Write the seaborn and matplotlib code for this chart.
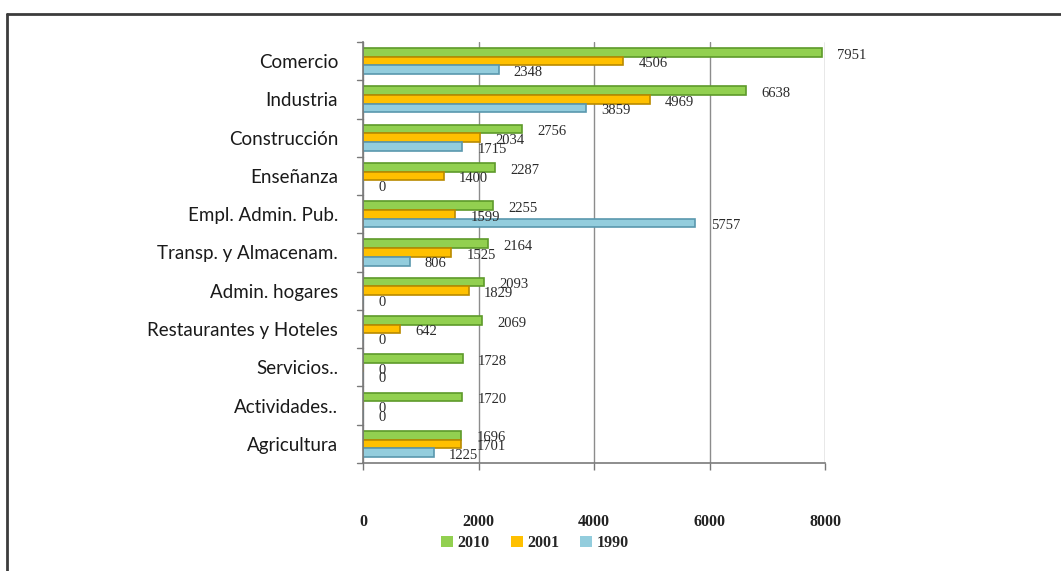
import matplotlib
matplotlib.use("Agg")
import matplotlib.pyplot as plt
from matplotlib.lines import Line2D
import seaborn as sns
import pandas as pd

# Employment by economic sector, three census years
sectors = ["Comercio", "Industria", "Construcción", "Enseñanza", "Empl. Admin. Pub.",
           "Transp. y Almacenam.", "Admin. hogares", "Restaurantes y Hoteles",
           "Servicios..", "Actividades..", "Agricultura"]
years = ["2010", "2001", "1990"]
v2010 = [7951, 6638, 2756, 2287, 2255, 2164, 2093, 2069, 1728, 1720, 1696]
v2001 = [4506, 4969, 2034, 1400, 1599, 1525, 1829, 642, 0, 0, 1701]
v1990 = [2348, 3859, 1715, 0, 5757, 806, 0, 0, 0, 0, 1225]
x_ticks = [0, 2000, 4000, 6000, 8000]

fills = {"2010": "#92D050", "2001": "#FFC000", "1990": "#93CDDD"}
edges = {"2010": "#5E9A2A", "2001": "#B98A00", "1990": "#5A98AE"}

rows = []
for yr, vals in zip(years, [v2010, v2001, v1990]):
    for s, v in zip(sectors, vals):
        rows.append({"sector": s, "año": yr, "valor": v})
df = pd.DataFrame(rows)

sns.set_theme(style="white")
plt.rcParams["font.family"] = ["Lato", "DejaVu Sans"]
serif = ["Liberation Serif", "DejaVu Serif"]

fig = plt.figure(figsize=(10.61, 5.71), dpi=100)
ax = fig.add_axes([363 / 1061, 1 - 463 / 571, (825 - 363) / 1061, (463 - 42) / 571])

sns.barplot(data=df, x="valor", y="sector", hue="año", order=sectors,
            hue_order=years, palette=fills, orient="h", width=0.68,
            linewidth=1.2, saturation=1, ax=ax, legend=True)

# darker outline per series for a bevelled look
for cont, yr in zip(ax.containers, years):
    for p in cont:
        p.set_edgecolor(edges[yr])
        p.set_linewidth(1.2)

# value labels at bar ends
for cont in ax.containers:
    for p in cont:
        w = p.get_width()
        ax.annotate(f"{int(round(w))}", xy=(w, p.get_y() + p.get_height() / 2),
                    xytext=(11, -2), textcoords="offset points",
                    ha="left", va="center", fontsize=10.5,
                    family=serif, color="#2b2b2b")

ax.set_xlim(0, 8000)
ax.set_ylim(len(sectors) - 0.5, -0.5)
ax.set_xticks(x_ticks)
ax.set_xticklabels([str(t) for t in x_ticks], family=serif,
                   fontweight="bold", fontsize=11.5, color="#222222")
ax.tick_params(axis="x", which="major", pad=32, length=5, width=1, color="#777777",
               direction="out", bottom=True)
ax.tick_params(axis="y", labelsize=13.5, labelcolor="#1a1a1a", pad=18, length=0)
ax.set_xlabel("")
ax.set_ylabel("")

# vertical gridlines
ax.grid(axis="x", color="#8c8c8c", linewidth=1)
ax.grid(axis="y", visible=False)
ax.set_axisbelow(True)

for side in ["top", "right"]:
    ax.spines[side].set_visible(False)
for side in ["left", "bottom"]:
    ax.spines[side].set_visible(True)
    ax.spines[side].set_color("#7a7a7a")
    ax.spines[side].set_linewidth(1.2)

# small category-boundary ticks on the left axis
for k in range(len(sectors) + 1):
    ax.plot([-110, 0], [k - 0.5, k - 0.5], color="#7a7a7a", lw=1, clip_on=False)

leg = ax.legend(loc="center", bbox_to_anchor=(535 / 1061, 1 - 543 / 571),
                bbox_transform=fig.transFigure, ncol=3, frameon=False,
                handlelength=0.75, handleheight=0.75, handletextpad=0.3,
                columnspacing=1.3,
                prop={"family": serif, "weight": "bold", "size": 11.5})
for h in leg.legend_handles:
    h.set_edgecolor("none")

# outer chart frame (top and left edges)
fig.add_artist(Line2D([7 / 1061, 1.0], [1 - 14 / 571, 1 - 14 / 571],
                      transform=fig.transFigure, color="#3c3c3c", lw=2))
fig.add_artist(Line2D([7 / 1061, 7 / 1061], [0, 1 - 14 / 571],
                      transform=fig.transFigure, color="#3c3c3c", lw=2))

fig.savefig("out.png", dpi=100)
